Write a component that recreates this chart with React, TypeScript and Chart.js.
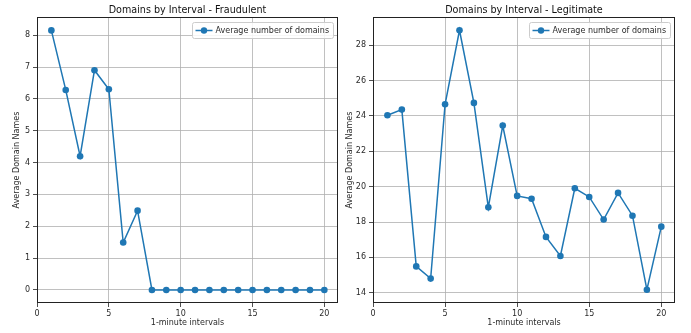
import React, { useEffect, useRef } from "react";
import { Chart, registerables } from "chart.js";

Chart.register(...registerables);

const intervals = [1, 2, 3, 4, 5, 6, 7, 8, 9, 10, 11, 12, 13, 14, 15, 16, 17, 18, 19, 20];
const fraudulentValues = [8.15, 6.28, 4.2, 6.9, 6.3, 1.49, 2.49, 0, 0, 0, 0, 0, 0, 0, 0, 0, 0, 0, 0, 0];
const legitimateValues = [24.04, 24.36, 15.49, 14.8, 24.66, 28.85, 24.74, 18.83, 23.46, 19.48, 19.32, 17.16, 16.08, 19.91, 19.42, 18.14, 19.65, 18.36, 14.17, 17.74];
const xTicks = [0, 5, 10, 15, 20];
const fraudYTicks = [0, 1, 2, 3, 4, 5, 6, 7, 8];
const legitYTicks = [14, 16, 18, 20, 22, 24, 26, 28];
const seriesLabel = "Average number of domains";

const FONT = "'DejaVu Sans', sans-serif";
const BLUE = "#1f77b4";
const TXT = "#2a2a2a";

const framePlugin = {
  id: "frame",
  afterDraw(chart: any) {
    const { ctx, chartArea } = chart;
    ctx.save();
    ctx.strokeStyle = "#222";
    ctx.lineWidth = 1;
    ctx.strokeRect(
      Math.round(chartArea.left) + 0.5,
      Math.round(chartArea.top) + 0.5,
      Math.round(chartArea.right - chartArea.left) - 1,
      Math.round(chartArea.bottom - chartArea.top) - 1
    );
    ctx.restore();
  },
};

const titlePlugin = {
  id: "mplTitle",
  afterDraw(chart: any) {
    const { ctx, chartArea } = chart;
    const text = chart.options.plugins.mplTitle.text;
    ctx.save();
    ctx.font = `9.6px ${FONT}`;
    ctx.fillStyle = "#111";
    ctx.textAlign = "center";
    ctx.textBaseline = "middle";
    ctx.fillText(text, (chartArea.left + chartArea.right) / 2, 10);
    ctx.restore();
  },
};

const legendPlugin = {
  id: "mplLegend",
  afterDraw(chart: any) {
    const { ctx, chartArea } = chart;
    const label = chart.data.datasets[0].label;
    ctx.save();
    ctx.font = `8px ${FONT}`;
    const tw = ctx.measureText(label).width;
    const w = tw + 27;
    const h = 16;
    const x = chartArea.right - 5 - w;
    const y = chartArea.top + 5;
    ctx.fillStyle = "rgba(255,255,255,0.85)";
    ctx.strokeStyle = "#cccccc";
    ctx.lineWidth = 1;
    ctx.beginPath();
    const r = 2;
    const X = Math.round(x) + 0.5, Y = Math.round(y) + 0.5, W = Math.round(w), H = h;
    ctx.moveTo(X + r, Y);
    ctx.lineTo(X + W - r, Y);
    ctx.arcTo(X + W, Y, X + W, Y + r, r);
    ctx.lineTo(X + W, Y + H - r);
    ctx.arcTo(X + W, Y + H, X + W - r, Y + H, r);
    ctx.lineTo(X + r, Y + H);
    ctx.arcTo(X, Y + H, X, Y + H - r, r);
    ctx.lineTo(X, Y + r);
    ctx.arcTo(X, Y, X + r, Y, r);
    ctx.closePath();
    ctx.fill();
    ctx.stroke();
    const cy = Y + H / 2;
    ctx.strokeStyle = BLUE;
    ctx.lineWidth = 1.5;
    ctx.beginPath();
    ctx.moveTo(X + 3, cy);
    ctx.lineTo(X + 20, cy);
    ctx.stroke();
    ctx.fillStyle = BLUE;
    ctx.beginPath();
    ctx.arc(X + 11.5, cy, 3.2, 0, Math.PI * 2);
    ctx.fill();
    ctx.fillStyle = TXT;
    ctx.textBaseline = "middle";
    ctx.textAlign = "left";
    ctx.fillText(label, X + 23, cy + 0.5);
    ctx.restore();
  },
};

function makeConfig(
  title: string,
  values: number[],
  yMin: number,
  yMax: number,
  yTicks: number[],
  yWidth: number,
  yTitlePad: number,
  rightPad: number
): any {
  return {
    type: "line",
    data: {
      datasets: [
        {
          label: seriesLabel,
          data: intervals.map((x, i) => ({ x, y: values[i] })),
          borderColor: BLUE,
          backgroundColor: BLUE,
          borderWidth: 1.5,
          pointRadius: 3.3,
          pointBorderWidth: 0,
          pointBackgroundColor: BLUE,
          tension: 0,
        },
      ],
    },
    options: {
      responsive: false,
      animation: false,
      events: [],
      layout: { padding: { left: 0, right: rightPad, top: 17, bottom: 0 } },
      plugins: {
        legend: { display: false },
        tooltip: { enabled: false },
        title: { display: false },
        mplTitle: { text: title },
      },
      scales: {
        x: {
          type: "linear",
          min: 0,
          max: 20.95,
          afterBuildTicks: (scale: any) => {
            scale.ticks = xTicks.map((v) => ({ value: v }));
          },
          afterFit: (scale: any) => {
            scale.height = 30;
          },
          grid: { color: "#b0b0b0", lineWidth: 0.8, tickColor: "#222", tickLength: 4, drawTicks: true },
          border: { display: false },
          ticks: {
            color: TXT,
            padding: 2,
            maxRotation: 0,
            font: { family: FONT, size: 8 },
          },
          title: {
            display: true,
            text: "1-minute intervals",
            color: TXT,
            font: { family: FONT, size: 8, lineHeight: 1.2 },
            padding: { top: 0, bottom: 5 },
          },
        },
        y: {
          type: "linear",
          min: yMin,
          max: yMax,
          afterBuildTicks: (scale: any) => {
            scale.ticks = yTicks.map((v) => ({ value: v }));
          },
          afterFit: (scale: any) => {
            scale.width = yWidth;
          },
          grid: { color: "#b0b0b0", lineWidth: 0.8, tickColor: "#222", tickLength: 4, drawTicks: true },
          border: { display: false },
          ticks: {
            color: TXT,
            padding: 3,
            font: { family: FONT, size: 8 },
          },
          title: {
            display: true,
            text: "Average Domain Names",
            color: TXT,
            font: { family: FONT, size: 8, lineHeight: 1.2 },
            padding: { top: yTitlePad, bottom: 0 },
          },
        },
      },
    },
    plugins: [framePlugin, titlePlugin, legendPlugin],
  };
}

export default function App() {
  const leftRef = useRef<HTMLCanvasElement>(null);
  const rightRef = useRef<HTMLCanvasElement>(null);

  useEffect(() => {
    const c1 = new Chart(
      leftRef.current as HTMLCanvasElement,
      makeConfig("Domains by Interval - Fraudulent", fraudulentValues, -0.41, 8.57, fraudYTicks, 37, 12, 7)
    );
    const c2 = new Chart(
      rightRef.current as HTMLCanvasElement,
      makeConfig("Domains by Interval - Legitimate", legitimateValues, 13.42, 29.6, legitYTicks, 36, 8, 16)
    );
    return () => {
      c1.destroy();
      c2.destroy();
    };
  }, []);

  return (
    <div style={{ position: "fixed", left: 0, top: 0, width: 691, height: 333, background: "#fff" }}>
      <canvas ref={leftRef} width={345} height={333} style={{ position: "absolute", left: 0, top: 0 }} />
      <canvas ref={rightRef} width={354} height={333} style={{ position: "absolute", left: 337, top: 0 }} />
    </div>
  );
}
